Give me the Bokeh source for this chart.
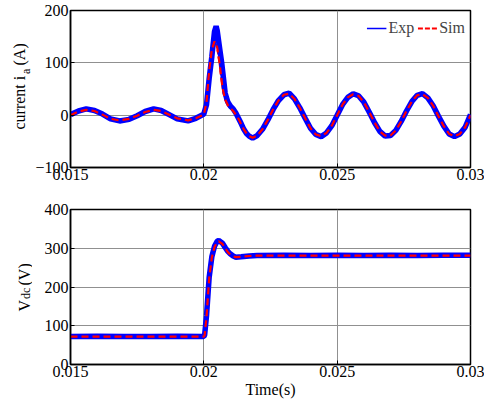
import math
from bokeh.plotting import figure
from bokeh.layouts import column, row
from bokeh.models import Range1d, FixedTicker, Label, Legend, LegendItem
from bokeh.embed import file_html
from bokeh.resources import INLINE

# ---------------- data ----------------
t_ia_exp = [0.0150, 0.0153, 0.01559, 0.0159, 0.0162, 0.0165, 0.01684, 0.0172, 0.0175, 0.0178,
            0.01812, 0.0184, 0.0187, 0.0190, 0.01941, 0.0197, 0.0200, 0.0201, 0.0202, 0.0203,
            0.0204, 0.02046, 0.0205, 0.0206, 0.02067, 0.0208, 0.0209, 0.0210, 0.0211, 0.0212,
            0.0213, 0.0214, 0.0215, 0.0216, 0.0217, 0.02183, 0.0220, 0.0222, 0.0224, 0.0226,
            0.0228, 0.0230, 0.0232, 0.0234, 0.0236, 0.0238, 0.0240, 0.0242, 0.0244, 0.0246,
            0.0248, 0.0250, 0.0252, 0.0254, 0.0256, 0.0258, 0.0260, 0.0262, 0.0264, 0.0266,
            0.0268, 0.0270, 0.0272, 0.0274, 0.0276, 0.0278, 0.0280, 0.0282, 0.0284, 0.0286,
            0.0288, 0.0290, 0.0292, 0.0294, 0.0296, 0.0298, 0.0300]
ia_exp = [1, 8, 12, 9, 2, -7, -11, -8, -1, 7,
          12, 9, 1, -7, -11, -6, 2, 20, 70, 112,
          160, 170, 162, 125, 100, 42, 25, 17, 12, 4,
          -6, -16, -27, -35, -40, -44, -39, -27, -9, 11,
          28, 39, 42, 31, 14, -6, -25, -37, -41, -34,
          -20, 0, 20, 34, 41, 37, 25, 6, -14, -31,
          -40, -39, -29, -12, 8, 26, 38, 41, 33, 18,
          -2, -21, -36, -41, -36, -23, 1]

t_ia_sim = [0.0150, 0.0153, 0.01559, 0.0159, 0.0162, 0.0165, 0.01684, 0.0172, 0.0175, 0.0178,
            0.01812, 0.0184, 0.0187, 0.0190, 0.01941, 0.0197, 0.0200, 0.0201, 0.0202, 0.0203,
            0.0204, 0.0205, 0.0206, 0.0207, 0.0208, 0.0209, 0.0210, 0.0211, 0.0212,
            0.0213, 0.0214, 0.0215, 0.0216, 0.0217, 0.02183, 0.0220, 0.0222, 0.0224, 0.0226,
            0.0228, 0.0230, 0.0232, 0.0234, 0.0236, 0.0238, 0.0240, 0.0242, 0.0244, 0.0246,
            0.0248, 0.0250, 0.0252, 0.0254, 0.0256, 0.0258, 0.0260, 0.0262, 0.0264, 0.0266,
            0.0268, 0.0270, 0.0272, 0.0274, 0.0276, 0.0278, 0.0280, 0.0282, 0.0284, 0.0286,
            0.0288, 0.0290, 0.0292, 0.0294, 0.0296, 0.0298, 0.0300]
ia_sim = [0, 7, 10, 8, 1, -7, -10, -7, -1, 6,
          10, 8, 1, -6, -10, -6, 1, 25, 85, 125,
          141, 130, 95, 52, 30, 19, 13, 8, 1,
          -7, -17, -27, -35, -40, -43, -39, -27, -9, 11,
          28, 39, 41, 31, 14, -6, -25, -37, -40, -34,
          -20, 0, 20, 34, 40, 37, 25, 6, -14, -31,
          -39, -39, -29, -12, 8, 26, 38, 40, 33, 18,
          -2, -21, -36, -40, -36, -23, 0]

t_vdc_exp = [0.0150, 0.0160, 0.0170, 0.0180, 0.0190, 0.0200, 0.02003, 0.0201, 0.0202, 0.0203,
             0.0204, 0.0205, 0.02056, 0.0207, 0.0208, 0.0209, 0.0210, 0.0211, 0.0212, 0.0214,
             0.0217, 0.0220, 0.0230, 0.0240, 0.0250, 0.0260, 0.0270, 0.0280, 0.0290, 0.0300]
vdc_exp = [72, 73, 72, 72, 73, 72, 76, 125, 225, 278,
           305, 318, 320, 313, 302, 292, 285, 280, 277, 278,
           280, 281, 282, 281, 282, 281, 282, 281, 282, 282]

t_vdc_sim = [0.0150, 0.0160, 0.0170, 0.0180, 0.0190, 0.0200, 0.02003, 0.0201, 0.0202, 0.0203,
             0.0204, 0.0205, 0.02056, 0.0207, 0.0208, 0.0209, 0.0210, 0.0211, 0.0212, 0.0214,
             0.0217, 0.0220, 0.0230, 0.0240, 0.0250, 0.0260, 0.0270, 0.0280, 0.0290, 0.0300]
vdc_sim = [72, 72, 72, 72, 72, 72, 75, 122, 222, 276,
           303, 316, 318, 311, 300, 290, 283, 279, 277, 278,
           280, 281, 281, 281, 281, 281, 281, 281, 281, 281]

x_ticks = [0.015, 0.02, 0.025, 0.03]
x_tick_labels = ["0.015", "0.02", "0.025", "0.03"]
ia_ticks = [-100, 0, 100, 200]
vdc_ticks = [0, 100, 200, 300, 400]

FONT = "Liberation Serif"
FS = "16px"
SUB = "12px"
BLUE = "#0000ff"
RED = "#ff0000"
STRIP = 32


def style(p, yticks):
    p.xaxis.ticker = FixedTicker(ticks=x_ticks)
    p.yaxis.ticker = FixedTicker(ticks=yticks)
    p.xaxis.major_label_overrides = {v: s for v, s in zip(x_ticks, x_tick_labels)}
    for ax in (p.xaxis[0], p.yaxis[0]):
        ax.major_label_text_font = FONT
        ax.major_label_text_font_size = FS
        ax.major_label_text_color = "black"
        ax.major_tick_in = 4
        ax.major_tick_out = 0
        ax.minor_tick_line_color = None
        ax.axis_line_color = "black"
        ax.axis_line_width = 1.5
        ax.major_tick_line_color = "black"
        ax.major_label_standoff = 2
    p.xaxis.major_label_standoff = 1
    p.xgrid.ticker = FixedTicker(ticks=x_ticks)
    p.ygrid.ticker = FixedTicker(ticks=yticks)
    for g in (p.xgrid[0], p.ygrid[0]):
        g.grid_line_color = "#909090"
        g.grid_line_width = 1
    p.outline_line_color = "black"
    p.outline_line_width = 1.5
    p.outline_line_alpha = 1
    p.background_fill_color = "white"
    p.border_fill_color = "white"


W = 484 - STRIP
p1 = figure(width=W, height=195, output_backend="svg", toolbar_location=None,
            x_range=Range1d(0.015, 0.03), y_range=Range1d(-100, 200),
            min_border_left=64 - STRIP, min_border_right=14, min_border_top=10, min_border_bottom=28)
style(p1, ia_ticks)
r_leg_sim = p1.line(t_ia_sim, ia_sim, line_color=RED, line_width=2, line_dash="5 2")
r_leg_exp = p1.line(t_ia_exp, ia_exp, line_color=BLUE, line_width=1.5)
p1.line(t_ia_exp, ia_exp, line_color=BLUE, line_width=5.5)
p1.line(t_ia_sim, ia_sim, line_color=RED, line_width=2.2, line_dash="7 4")
leg = Legend(items=[LegendItem(label="Exp", renderers=[r_leg_exp]),
                    LegendItem(label="Sim", renderers=[r_leg_sim])],
             location="top_right", orientation="horizontal", border_line_alpha=0,
             background_fill_alpha=0, padding=0, margin=5, spacing=3, label_standoff=2,
             glyph_width=20, glyph_height=26, label_height=26,
             label_text_font=FONT, label_text_font_size=FS)
p1.add_layout(leg, "center")

p2 = figure(width=W, height=207, output_backend="svg", toolbar_location=None,
            x_range=Range1d(0.015, 0.03), y_range=Range1d(0, 400),
            min_border_left=64 - STRIP, min_border_right=14, min_border_top=14, min_border_bottom=38)
style(p2, vdc_ticks)
p2.line(t_vdc_exp, vdc_exp, line_color=BLUE, line_width=5.5)
p2.line(t_vdc_sim, vdc_sim, line_color=RED, line_width=2.2, line_dash="7 4")
p2.xaxis.axis_label = "Time(s)"
p2.xaxis.axis_label_standoff = 1
p2.xaxis.axis_label_text_font = FONT
p2.xaxis.axis_label_text_font_size = FS
p2.xaxis.axis_label_text_font_style = "normal"
p2.xaxis.axis_label_text_color = "black"

# narrow strip on the left for the rotated y labels with subscripts (pixel coordinates)
lab = figure(width=STRIP, height=402, output_backend="svg", toolbar_location=None,
             x_range=Range1d(0, STRIP), y_range=Range1d(402, 0),
             x_axis_location=None, y_axis_location=None,
             min_border_left=0, min_border_right=0, min_border_top=0, min_border_bottom=0)
lab.grid.visible = False
lab.outline_line_color = None
lab.background_fill_color = "white"
lab.border_fill_color = "white"


def vlabel(text, x, y, size):
    lab.add_layout(Label(x=x, y=y, text=text, angle=math.pi / 2, text_align="left",
                         text_baseline="alphabetic", text_font=FONT, text_font_size=size,
                         text_color="black"))


vlabel("current i", 19, 129, FS)
vlabel("a", 25, 73.5, SUB)
vlabel("(A)", 19, 65, FS)
vlabel("V", 23.5, 311, FS)
vlabel("dc", 25, 298.5, SUB)
vlabel("(V)", 23.5, 285, FS)

layout = row(lab, column(p1, p2, spacing=0), spacing=0)
open("out.html", "w").write(file_html(layout, INLINE))
